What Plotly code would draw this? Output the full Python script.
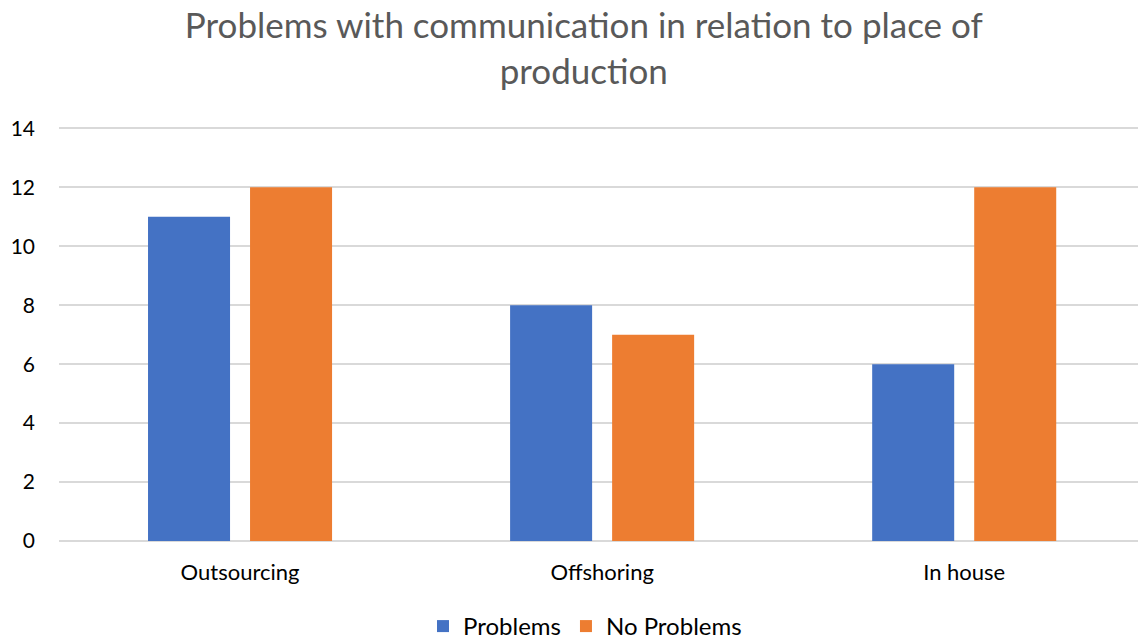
import plotly.graph_objects as go

categories = ["Outsourcing", "Offshoring", "In house"]
problems = [11, 8, 6]
no_problems = [12, 7, 12]
y_ticks = [0, 2, 4, 6, 8, 10, 12, 14]

FONT = "Lato"

fig = go.Figure()
fig.add_trace(go.Bar(name="Problems", x=categories, y=problems,
                     marker=dict(color="#4472C4", line=dict(width=0))))
fig.add_trace(go.Bar(name="No Problems", x=categories, y=no_problems,
                     marker=dict(color="#ED7D31", line=dict(width=0))))

fig.update_layout(
    width=1138, height=640,
    margin=dict(l=59, r=0, t=124, b=99, autoexpand=False),
    paper_bgcolor="white", plot_bgcolor="white",
    barmode="group", bargap=0.4365, bargroupgap=0.196,
    font=dict(family=FONT, color="#000000", size=20),
    title=dict(text="Problems with communication in relation to place of<br>production",
               x=0.513, xanchor="center", xref="container",
               y=1 - 38 / 640, yanchor="middle", yref="container",
               font=dict(family=FONT, size=35, color="#595959")),
    legend=dict(orientation="h", x=0.4875, xanchor="center",
                y=-0.205, yanchor="middle",
                font=dict(family=FONT, size=24, color="#000000"),
                itemwidth=30, traceorder="normal"),
    showlegend=True,
)
fig.update_xaxes(range=[-0.5, 2.48], showgrid=False, showline=False,
                 zeroline=False, ticks="outside", ticklen=12,
                 tickcolor="rgba(0,0,0,0)",
                 tickfont=dict(family=FONT, size=22, color="#000000"))
fig.update_yaxes(range=[0, 14.15], tickvals=y_ticks, showgrid=True,
                 gridcolor="#D9D9D9", gridwidth=1.5, zeroline=True,
                 zerolinecolor="#D9D9D9", zerolinewidth=1.5, showline=False,
                 ticklabelstandoff=23,
                 tickfont=dict(family=FONT, size=21, color="#000000"))

fig.write_html("out.html")
